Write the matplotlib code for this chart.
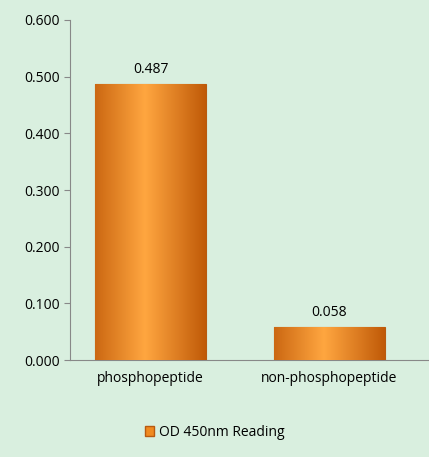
import matplotlib
matplotlib.use("Agg")
import matplotlib.pyplot as plt
import matplotlib.patches as patches
import numpy as np

categories = ["phosphopeptide", "non-phosphopeptide"]
values = [0.487, 0.058]
series_name = "OD 450nm Reading"
yticks = [0.0, 0.1, 0.2, 0.3, 0.4, 0.5, 0.6]

plt.rcParams['font.family'] = ['Open Sans', 'DejaVu Sans']
bg = '#d9efdf'
fig = plt.figure(figsize=(4.29, 4.57), dpi=100, facecolor=bg)
ax = fig.add_axes([70 / 429, 1 - 360 / 457, 358 / 429, 340 / 457], facecolor=bg)

x = np.arange(len(categories))
bars = ax.bar(x, values, width=0.62, color='#f08a20', edgecolor='#b85a10', linewidth=0.8,
              label=series_name, zorder=2)

# horizontal gradient inside each bar
grad = np.linspace(0, 1, 256)
shade = 1 - np.abs(grad - 0.45) * 1.8
cmap = matplotlib.colors.LinearSegmentedColormap.from_list('o', ['#c05a08', '#ffa640'])
for b in bars:
    im = ax.imshow(shade[np.newaxis, :], cmap=cmap, aspect='auto', zorder=3,
                   extent=[b.get_x(), b.get_x() + b.get_width(), 0, b.get_height()])
    im.set_clip_path(b)
    ax.text(b.get_x() + b.get_width() / 2, b.get_height() + 0.012, f"{b.get_height():.3f}",
            ha='center', va='bottom', fontsize=10, zorder=4)

ax.set_xlim(-0.45, 1.55)
ax.set_ylim(0, 0.6)
ax.set_yticks(yticks)
ax.set_yticklabels([f"{v:.3f}" for v in yticks], fontsize=10)
ax.set_xticks(x)
ax.set_xticklabels(categories, fontsize=10)
ax.tick_params(axis='x', length=0, pad=8)
ax.tick_params(axis='y', length=4, color='#888888')
for s in ['top', 'right']:
    ax.spines[s].set_visible(False)
ax.spines['left'].set_color('#888888')
ax.spines['bottom'].set_color('#888888')

handle = patches.Patch(facecolor='#f08a20', edgecolor='#b85a10')
fig.legend([handle], [series_name], loc='center', bbox_to_anchor=(0.5, 1 - 432 / 457),
           frameon=False, fontsize=10, handlelength=0.7, handleheight=0.7, handletextpad=0.3)

fig.savefig("out.png", dpi=100, facecolor=bg)
